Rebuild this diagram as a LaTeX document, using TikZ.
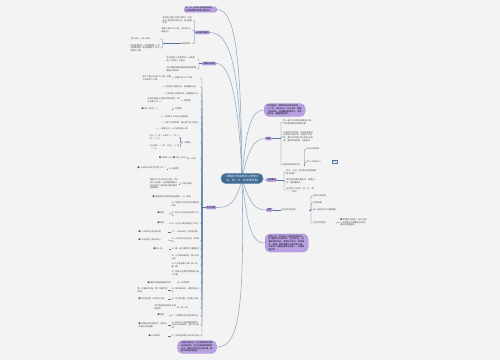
\documentclass[tikz,border=0pt]{standalone}
\usepackage{fontspec}
\setmainfont{Noto Sans CJK SC}
\XeTeXlinebreaklocale "zh"
\XeTeXlinebreakskip=0pt plus 1pt
\newcommand\mmf{\fontsize{4.1}{5.3}\selectfont}
\newcommand\mmc{\fontsize{5.4}{7}\selectfont}
\definecolor{bgc}{HTML}{F3F3F3}
\definecolor{ctr}{HTML}{3E6A93}
\definecolor{ctrb}{HTML}{7097BC}
\definecolor{pur}{HTML}{B8A0E2}
\definecolor{purb}{HTML}{9A7ED4}
\definecolor{mainln}{HTML}{8EAAC6}
\definecolor{subln}{HTML}{4E7AA4}
\definecolor{tx}{HTML}{444444}
\pgfdeclarelayer{bgzero}
\pgfdeclarelayer{bgone}
\pgfsetlayers{bgzero,bgone,main}
\newcommand\lch[4]{\node[txt=#3, anchor=east] (#1) at (200,#2) {#4};
  \draw[subl] (Lj) |- (#1.east);}
\newcommand\lgc[6]{\node[txt=#4, anchor=east] (#1) at (#3,#5) {#6};
  \draw[subl] (#2.west) -- (#1.east);}
\begin{document}
\begin{tikzpicture}[x=2pt,y=-2pt,
  txt/.style={font=\mmf, text=tx, align=left, inner sep=0.6pt, text width=#1},
  txt/.default=56pt,
  ctrnode/.style={fill=ctr, draw=ctrb, line width=0.8pt, rounded corners=9pt, text=white,
    font=\mmc, align=center, text width=72pt, inner xsep=6pt, inner ysep=4pt},
  bignode/.style={fill=pur, draw=purb, line width=0.5pt, rounded corners=10pt, text=black,
    font=\mmf, align=left, text width=#1, inner xsep=7pt, inner ysep=3pt},
  bignode/.default=70pt,
  tag/.style={fill=pur, draw=purb, line width=0.4pt, rounded corners=2.5pt, text=black,
    font=\mmf, inner xsep=2.5pt, inner ysep=1.2pt},
  mainl/.style={draw=mainln, line width=1.1pt},
  subl/.style={draw=subln, line width=0.7pt, rounded corners=2pt},
  boxed/.style={draw=subln, line width=0.4pt, fill=white, font=\mmf, text=tx, inner sep=1pt}]
\begin{pgfonlayer}{bgzero}
\path[fill=bgc] (0,0) rectangle (500,360);
\end{pgfonlayer}
\useasboundingbox (0,0) rectangle (500,360);

% centre
\node[ctrnode] (C) at (242,178.5) {人教版三年级数学上册知识\\点：时、分、秒思维导图};

% top-left branches
\node[tag, text width=60pt, rounded corners=5pt, align=left] (A1) at (200.5,9.5) {时、分、秒的认识及时间单位\\之间的换算关系和计算方法};
\node[tag] (A2) at (202.5,32.5) {认识时间单位};
\node[tag] (A3) at (209,63.5) {计算经过时间};

% left big branch
\node[tag] (L) at (211,207.5) {练习巩固};
% bottom branch
\node[bignode=64pt] (B) at (197,347) {求经过的时间，可以用结束时刻减去开始时刻；也可以用画线段图的方法，把经过的时间分段计算，再把几段时间合起来。};

% right branches
\node[bignode=68pt, anchor=west] (R1) at (264,110) {时间单位：常用的时间单位有时、分、秒。1时=60分，1分=60秒。钟面上有3根针，走得最快的是秒针，其次是分针，最慢的是时针。};
\node[tag, anchor=west] (R2) at (265,138.5) {计算};
\node[tag, anchor=west] (R3) at (266,180) {注意事项};
\node[tag, anchor=west] (R4) at (266,210) {估算};
\node[bignode=72pt, anchor=west] (R5) at (265,243) {秒的认识：秒针走1小格的时间是1秒，走1圈的时间是60秒，也就是1分。测量较短的时间，常用秒作单位，例如跑步、跳绳、眨眼等都可以用秒来计量。计算时一定要注意单位的统一，先换算再计算。};

\begin{pgfonlayer}{bgone}
\draw[mainl] (C.center) .. controls (241,60) and (236,9.5) .. (A1.east);
\draw[mainl] (C.center) .. controls (240,75) and (232,32.5) .. (A2.east);
\draw[mainl] (C.center) .. controls (239,100) and (230,63.5) .. (A3.east);
\draw[mainl] (C.center) .. controls (236,205) and (228,207.5) .. (L.east);
\draw[mainl] (C.center) .. controls (245,320) and (237,347) .. (B.east);
\draw[mainl] (C.center) .. controls (246,125) and (252,110) .. (R1.west);
\draw[mainl] (C.center) .. controls (248,150) and (254,138.5) .. (R2.west);
\draw[mainl] (C.center) -- (R3.west);
\draw[mainl] (C.center) .. controls (250,205) and (256,210) .. (R4.west);
\draw[mainl] (C.center) .. controls (248,235) and (254,243) .. (R5.west);
\end{pgfonlayer}

% A2 children
\coordinate (A2j) at (194.5,32.5);
\node[txt=60pt, anchor=east] (a21) at (193,20.5) {秒是比分更小的时间单位，秒针走1小格的时间是1秒，走1圈是60秒};
\node[txt=60pt, anchor=east] (a22) at (192,30.5) {钟面上有60个小格，分针走1小格是1分};
\node[txt=20pt, anchor=east] (a23) at (192,43.5) {单位换算};
\draw[subl] (A2.west) -- (A2j);
\foreach \n in {a21,a22,a23} \draw[subl] (A2j) |- (\n.east);
\coordinate (a23j) at (162.5,43.5);
\node[txt=58pt, anchor=east] (g1) at (160,39) {1时=60分，1分=60秒};
\node[txt=58pt, anchor=east] (g2) at (160,48) {把时换算成分，用时数乘60；把分换算成秒，用分数乘60，反之用除法计算};
\draw[subl] (a23.west) -- (a23j);
\foreach \n in {g1,g2} \draw[subl] (a23j) |- (\n.east);

% A3 children
\coordinate (A3j) at (199,63.5);
\node[txt=60pt, anchor=east] (a31) at (197,59) {经过时间＝结束时刻－开始时刻，时减时，分减分};
\node[txt=60pt, anchor=east] (a32) at (197,69) {可以借助钟面或画线段图帮助理解经过的时间};
\draw[subl] (A3.west) -- (A3j);
\foreach \n in {a31,a32} \draw[subl] (A3j) |- (\n.east);

% left big branch children
\coordinate (Lj) at (202,207.5);
\draw[subl] (L.west) -- (Lj);
\lch{l1}{78}{54pt}{1. 钟面上有12个大格}
\lgc{m1}{l1}{172}{58pt}{78.5}{每个大格又分成5个小格，钟面上共有60个小格}
\lch{l2}{87}{74pt}{2. 分针走1小格是1分，走1圈是60分}
\lch{l3}{94}{70pt}{3. 时针走1大格是1时，走1圈是12时}
\lch{l4}{101}{36pt}{4. 填空题}
\lgc{m4}{l4}{181}{66pt}{100.5}{在括号里填上合适的时间单位：跑50米用了10（ ）}
\lch{l5}{109}{54pt}{5. 判断题}
\lgc{m5}{l5}{172}{60pt}{109}{■ 1时=100分（ ）}
\lch{l6}{117}{76pt}{6. 小明早上7时30分从家出发}
\lch{l7}{123}{74pt}{7. 8时55分到学校，路上用了多少时间？}
\lch{l8}{129}{86pt}{8. 一节课40分，上午8时开始上课}
\lch{l9}{143}{36pt}{9. 计算题}
\lgc{m9a}{l9}{180}{60pt}{137.5}{3分=（ ）秒，120秒=（ ）分，2时=（ ）分}
\lgc{m9b}{l9}{180}{60pt}{147.5}{1分20秒=（ ）秒，90分=（ ）时（ ）分}
\draw[subl] (l9.west) -- ++(-0.8,0) |- (m9a.east);
\lch{l10}{159}{24pt}{10. 比较}
\lgc{m10}{l10}{187.5}{56pt}{158}{■ 100秒○1分 ■ 2时○120分}
\lch{l11}{169}{62pt}{11. 选择题}
\lgc{m11}{l11}{167}{58pt}{169}{■ 小红跑100米大约用了18（ ）}
\lch{l12}{184}{40pt}{12. 解决问题}
\lgc{m12}{l12}{178.5}{56pt}{184}{电影从下午2时30分开始，到4时10分结束，这场电影放映了多长时间？请写出计算过程并说明理由。}
\lch{l13}{197}{34pt}{13. 连线}
\lgc{m13}{l13}{182}{58pt}{196.5}{■ 把时间和对应的活动连起来}
\lch{l14}{204.5}{56pt}{14. 钟面上时针和分针重合的时刻}
\lch{l15}{214}{56pt}{15. 秒针从12走到6经过了30秒}
\lgc{m15}{l15}{169}{22pt}{213}{■ 填空}
\lch{l16}{223.5}{56pt}{16. 分针从3走到8经过了25分}
\lgc{m16}{l16}{169}{22pt}{223}{■ 填空}
\lch{l17}{232}{56pt}{17. 一天有24时，时针走2圈}
\lgc{m17}{l17}{168}{58pt}{232}{■ 一天中时针正好走2圈}
\lch{l18}{240.5}{56pt}{18. 火车8时20分开出，9时到站}
\lgc{m18}{l18}{168}{58pt}{240}{■ 火车行驶了多长时间？}
\lch{l19}{249}{56pt}{19. 做一道口算题大约需要5秒}
\lgc{m19}{l19}{169}{30pt}{249}{■ 估一估}
\lch{l20}{257}{56pt}{20. 小华每天睡9时，晚上9时上床}
\lch{l21}{265}{56pt}{21. 1分能做多少事？说一说、做一做}
\lch{l22}{273}{56pt}{22. 钟面上的数字把钟面分成12大格}
\lch{l23}{283}{44pt}{23. 动手操作}
\lgc{m23}{l23}{177}{58pt}{282.5}{■ 拨出下面各钟面的时刻}
\lch{l24}{290}{56pt}{24. 每节课40分，课间休息10分}
\lgc{m24}{l24}{168}{60pt}{290}{第一节课8时开始，第二节课几时开始？}
\lch{l25}{299}{56pt}{25. 秒针走1圈，分针走1小格}
\lgc{m25}{l25}{168}{58pt}{299}{■ 分针走1圈，时针走1大格}
\lch{l26}{308}{44pt}{26. 排一排}
\lgc{m26}{l26}{177}{44pt}{307}{把下面的时间按从长到短排列}
\lch{l27}{316}{56pt}{27. 小明看书从3时到3时45分}
\lgc{m27}{l27}{169}{22pt}{315}{■ 用时}
\lch{l28}{325}{56pt}{28. 妈妈上午9时到超市购物，10时20分回到家，用了多长时间？}
\lgc{m28}{l28}{168}{58pt}{325}{■ 先算出经过的时间，再用分作单位表示结果}
\lch{l29}{336}{56pt}{29. 学校运动会从8时30分开始}
\lgc{m29}{l29}{168}{38pt}{336}{■ 11时结束}

% R2 children
\coordinate (R2j) at (281,138.5);
\draw[subl] (R2.east) -- (R2j);
\node[txt=60pt, anchor=west] (r21) at (283,122) {同一单位之间的加减直接计算，不同单位要先换算再计算};
\node[txt=60pt, anchor=west] (r22) at (283,136.5) {计算经过时间时，可以用结束时刻减去开始时刻，如果分不够减，要从时中借1时化成60分再减，最后写出结果，注意单位};
\node[txt=40pt, anchor=west] (r23) at (283,165) {举例说明计算方法};
\foreach \n in {r21,r22,r23} \draw[subl] (R2j) |- (\n.west);
\coordinate (r23j) at (304.5,165);
\node[txt=36pt, anchor=west] (r231) at (306,149) {8时30分到9时};
\node[txt=50pt, anchor=west] (r232) at (306,162) {9时－8时30分＝};
\node[boxed, anchor=west] (r233) at (332,162) {30分};
\draw[subl] (r23.east) -- (r23j);
\foreach \n in {r231,r232} \draw[subl] (r23j) |- (\n.west);
\draw[subl] (r232.east) -- (r233.west);

% R3 children
\coordinate (R3j) at (284,180);
\draw[subl] (R3.east) -- (R3j);
\node[txt=60pt, anchor=west] (r31) at (286,172) {时针、分针、秒针的长短和粗细各不相同};
\node[txt=60pt, anchor=west] (r32) at (286,181.5) {读时刻时要先看时针，再看分针，最后看秒针};
\node[txt=60pt, anchor=west] (r33) at (286,190) {写时刻可以用“时、分”或“：”表示};
\foreach \n in {r31,r32,r33} \draw[subl] (R3j) |- (\n.west);

% R4 children
\node[txt=54pt, anchor=west] (r40) at (281,210) {估计经过的时间};
\draw[subl] (R4.east) -- (r40.west);
\coordinate (R4j) at (311,210);
\draw[subl] (r40.east) -- (R4j);
\node[txt=40pt, anchor=west] (r41) at (313,196) {先估计再计算};
\node[txt=30pt, anchor=west] (r42) at (313,203) {比较结果};
\node[txt=58pt, anchor=west] (r43) at (313,210) {说一说估计的方法和理由};
\node[txt=44pt, anchor=west] (r44) at (313,223) {生活中的应用};
\foreach \n in {r41,r42,r43,r44} \draw[subl] (R4j) |- (\n.west);
\node[txt=54pt, anchor=west] (r45) at (340,222.5) {■ 根据生活经验，估计完成一件事情大约需要多长时间，再实际测量验证};
\draw[subl] (r44.east) -- (r45.west);
\end{tikzpicture}
\end{document}
